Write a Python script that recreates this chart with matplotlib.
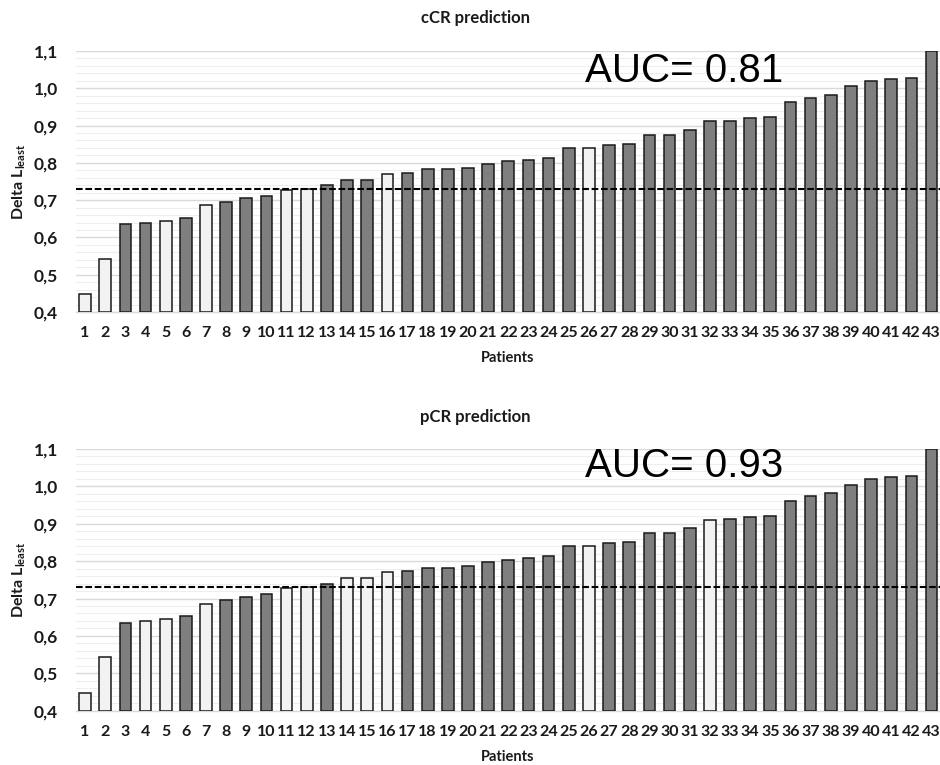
import matplotlib
matplotlib.use("Agg")
import matplotlib.pyplot as plt
from matplotlib.ticker import MultipleLocator, FuncFormatter

plt.rcParams["font.family"] = ["Lato", "DejaVu Sans"]
plt.rcParams["mathtext.fontset"] = "custom"
plt.rcParams["mathtext.rm"] = "Lato:bold"
plt.rcParams["mathtext.bf"] = "Lato:bold"

# Patient numbers and Delta L_least values (sorted ascending)
patients = list(range(1, 44))
delta_l_least = [
    0.448, 0.543, 0.635, 0.640, 0.645, 0.652, 0.686, 0.695, 0.705, 0.711,
    0.727, 0.730, 0.740, 0.754, 0.754, 0.770, 0.773, 0.783, 0.783, 0.786,
    0.797, 0.804, 0.809, 0.813, 0.840, 0.840, 0.848, 0.850, 0.875, 0.875,
    0.889, 0.911, 0.912, 0.919, 0.922, 0.962, 0.973, 0.983, 1.005, 1.020,
    1.026, 1.028, 1.100,
]

# 1 = complete response (light bar), 0 = no complete response (dark bar)
ccr_response = [1, 1, 0, 0, 1, 0, 1, 0, 0, 0, 1, 1, 0, 0, 0, 1, 0, 0, 0, 0,
                0, 0, 0, 0, 0, 1, 0, 0, 0, 0, 0, 0, 0, 0, 0, 0, 0, 0, 0, 0,
                0, 0, 0]
pcr_response = [1, 1, 0, 1, 1, 0, 1, 0, 0, 0, 1, 1, 0, 1, 1, 1, 0, 0, 0, 0,
                0, 0, 0, 0, 0, 1, 0, 0, 0, 0, 0, 1, 0, 0, 0, 0, 0, 0, 0, 0,
                0, 0, 0]

threshold = 0.73
panels = [
    ("cCR prediction", ccr_response, "AUC= 0.81"),
    ("pCR prediction", pcr_response, "AUC= 0.93"),
]

LIGHT = "#f2f2f2"
DARK = "#7f7f7f"

W, H = 940, 765
fig = plt.figure(figsize=(W / 100, H / 100), dpi=100)

# axes boxes in pixels: (left, top, right, bottom)
boxes = [(76, 51, 940, 312), (76, 449, 940, 710.7)]
title_y = [18, 417]
auc_baseline = [82, 477]
xlabel_y = [358, 757]

for (title, resp, auc), (l, t, r, b), ty, ay, xy in zip(
        panels, boxes, title_y, auc_baseline, xlabel_y):
    ax = fig.add_axes([l / W, 1 - b / H, (r - l) / W, (b - t) / H])
    colors = [LIGHT if v else DARK for v in resp]
    ax.bar(patients, [v - 0.4 for v in delta_l_least], bottom=0.4,
           width=0.58, color=colors, edgecolor="#1a1a1a", linewidth=1.1,
           zorder=3)
    ax.axhline(threshold, color="black", linewidth=1.5,
               dashes=(3.2, 1.3), zorder=4)

    ax.set_xlim(0.55, 43.42)
    ax.set_ylim(0.4, 1.1)
    ax.yaxis.set_major_locator(MultipleLocator(0.1))
    ax.yaxis.set_minor_locator(MultipleLocator(0.02))
    ax.yaxis.set_major_formatter(
        FuncFormatter(lambda v, p: f"{v:.1f}".replace(".", ",")))
    ax.set_xticks(patients)
    ax.set_xticklabels([str(p) for p in patients])

    ax.grid(axis="y", which="major", color="#d9d9d9", linewidth=1.0, zorder=0)
    ax.grid(axis="y", which="minor", color="#eeeeee", linewidth=0.8, zorder=0)
    ax.set_axisbelow(True)
    for side in ("top", "right", "left"):
        ax.spines[side].set_visible(False)
    ax.spines["bottom"].set_color("#d9d9d9")
    ax.spines["bottom"].set_linewidth(1.0)

    ax.tick_params(axis="both", which="both", length=0)
    ax.tick_params(axis="x", pad=10, labelsize=11.5)
    ax.tick_params(axis="y", pad=13, labelsize=12.5)
    for lab in ax.get_xticklabels() + ax.get_yticklabels():
        lab.set_fontweight("bold")
        lab.set_color("#1a1a1a")

    ax.set_ylabel(r"Delta L$_{\mathrm{least}}$", fontsize=11.5,
                  fontweight="bold", color="#1a1a1a")
    ax.yaxis.set_label_coords(-0.0556, 0.5)

    fig.text(475 / W, 1 - ty / H, title, ha="center", va="center",
             fontsize=12, fontweight="bold", color="#1a1a1a")
    fig.text(508 / W, 1 - xy / H, "Patients", ha="center", va="center",
             fontsize=10.5, fontweight="bold", color="#1a1a1a")
    fig.text(585 / W, 1 - ay / H, auc, ha="left", va="baseline",
             fontsize=29, family="Liberation Sans", color="black")

fig.savefig("out.png", dpi=100)
